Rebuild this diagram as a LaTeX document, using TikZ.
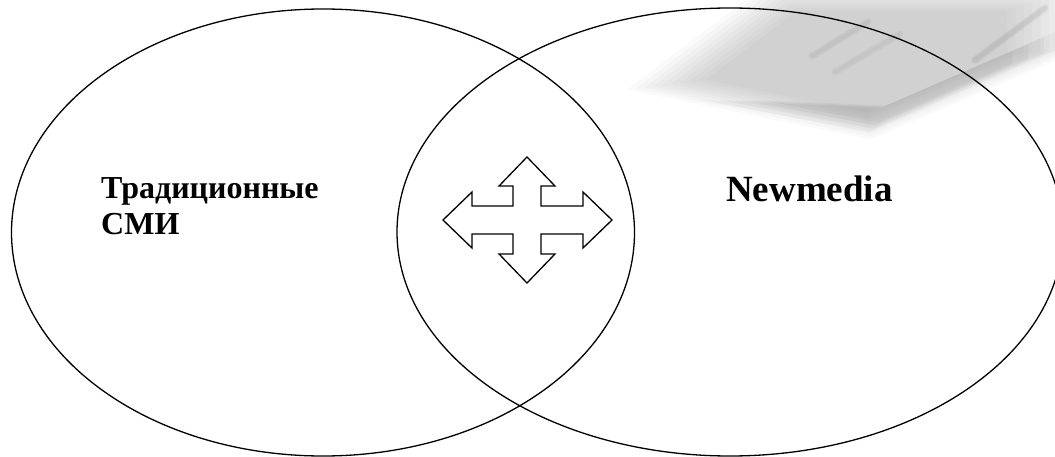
\documentclass[tikz,border=0pt]{standalone}
\usepackage{fontspec}
\setmainfont{Liberation Serif}
\usetikzlibrary{shapes.geometric}
\begin{document}
\begin{tikzpicture}[x=1pt,y=-1pt,
  venn/.style={draw, ellipse, line width=1.3pt, inner sep=0pt},
  lbl/.style={font=\bfseries\fontsize{32}{36}\selectfont, anchor=base west, inner sep=0pt},
  biglbl/.style={font=\bfseries\fontsize{37}{42}\selectfont, anchor=base west, inner sep=0pt},
  crossarrow/.style={draw, line width=1.3pt, line join=miter, fill=white},
  bgsoft/.style={fill=black, opacity=0.018}]
\useasboundingbox (0,0) rectangle (1055,457);
% faint background picture (top right), soft edges by layering
\foreach \s in {1.06,1.02,0.98,0.94,0.90,0.86,0.82,0.78,0.74,0.70}{
  \fill[bgsoft, shift={(860,60)}, scale=\s, shift={(-860,-60)}]
    (640,88) -- (770,-10) -- (1070,-10) -- (1070,50) -- (870,135) -- cycle;
}
\foreach \s in {1.0,0.9,0.8,0.7}{
  \fill[black, opacity=0.03, shift={(900,100)}, scale=\s, shift={(-900,-100)}]
    (700,100) -- (870,132) -- (1060,48) -- (1060,30) -- (880,108) -- cycle;
}
\foreach \w in {8,6,4}{
  \draw[black, opacity=0.025, line width=\w pt, line cap=round] (812,56) -- (868,22);
  \draw[black, opacity=0.02, line width=\w pt, line cap=round] (835,72) -- (900,34);
  \draw[black, opacity=0.03, line width=\w pt, line cap=round] (975,60) -- (1045,8);
}
% ellipses
\node[venn, minimum width=623pt, minimum height=447pt] (L) at (323,232.5) {};
\node[venn, minimum width=666pt, minimum height=448pt] (R) at (730,232) {};
% labels
\node[lbl] (t1) at (101,199) {Традиционные};
\node[lbl] (t2) at (101,235) {СМИ};
\node[biglbl] (nm) at (726,202) {Newmedia};
% four-way arrow
\draw[crossarrow] (527,157) -- (555,186) -- (541,186) -- (541,206) -- (583,206) -- (583,192)
  -- (612,220) -- (583,248) -- (583,234) -- (541,234) -- (541,254) -- (555,254)
  -- (527,283) -- (499,254) -- (513,254) -- (513,234) -- (472,234) -- (472,248)
  -- (443,220) -- (472,192) -- (472,206) -- (513,206) -- (513,186) -- (499,186) -- cycle;
\end{tikzpicture}
\end{document}
